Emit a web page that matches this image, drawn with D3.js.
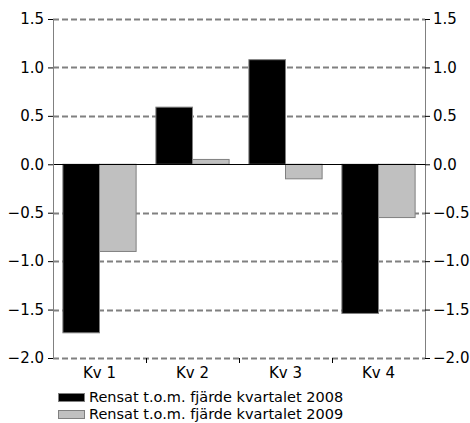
<!DOCTYPE html>
<html>
<head>
<meta charset="utf-8">
<script src="https://cdn.jsdelivr.net/npm/d3@7"></script>
<style>
  body { margin: 0; background: #fff; }
  text { font-family: "DejaVu Sans", Verdana, sans-serif; font-size: 15px; fill: #000; }
</style>
</head>
<body>
<svg id="chart" width="470" height="423"></svg>
<script>
const categories = ["Kv 1", "Kv 2", "Kv 3", "Kv 4"];
const seriesNames = ["Rensat t.o.m. fjärde kvartalet 2008", "Rensat t.o.m. fjärde kvartalet 2009"];
const values2008 = [-1.74, 0.59, 1.08, -1.54];
const values2009 = [-0.90, 0.05, -0.15, -0.55];
const yTicks = [1.5, 1.0, 0.5, 0.0, -0.5, -1.0, -1.5, -2.0];
const colors = ["#000000", "#c0c0c0"];

const margin = { top: 19, left: 53, right: 45, bottom: 65 };
const width = 470 - margin.left - margin.right,
    height = 423 - margin.top - margin.bottom;

const svg = d3.select("#chart");
const g = svg.append("g").attr("transform", `translate(${margin.left},${margin.top})`);

const y = d3.scaleLinear().domain([-2.0, 1.5]).range([height, 0]);
const x0 = d3.scaleBand().domain(categories).range([0, width]).paddingInner(0).paddingOuter(0);
const x1 = d3.scaleBand().domain([0, 1]).range([0, x0.bandwidth()]).paddingInner(0).paddingOuter(0.27);

// gridlines
g.selectAll(".grid")
    .data(yTicks.filter(d => d !== 0))
    .join("line")
    .attr("x1", 0).attr("x2", width)
    .attr("y1", d => Math.round(y(d)) + 0.5)
    .attr("y2", d => Math.round(y(d)) + 0.5)
    .attr("stroke", "#808080")
    .attr("stroke-width", 2)
    .attr("stroke-dasharray", "6,3");

// bars
const data = [];
categories.forEach((c, i) => {
    data.push({ cat: c, s: 0, v: values2008[i] });
    data.push({ cat: c, s: 1, v: values2009[i] });
});
g.selectAll("rect.bar")
    .data(data)
    .join("rect")
    .attr("class", "bar")
    .attr("x", d => x0(d.cat) + x1(d.s))
    .attr("width", x1.bandwidth())
    .attr("y", d => y(Math.max(0, d.v)))
    .attr("height", d => Math.abs(y(d.v) - y(0)))
    .attr("fill", d => colors[d.s])
    .attr("stroke", "#808080")
    .attr("stroke-width", 1);

// zero line
g.append("line")
    .attr("x1", 0).attr("x2", width)
    .attr("y1", Math.round(y(0)) + 0.5).attr("y2", Math.round(y(0)) + 0.5)
    .attr("stroke", "#000").attr("stroke-width", 1);

// axes
const fmt = d3.format(".1f");
const leftAxis = g.append("g")
    .call(d3.axisLeft(y).tickValues(yTicks).tickFormat(fmt).tickSize(5).tickPadding(4));
const rightAxis = g.append("g")
    .attr("transform", `translate(${width},0)`)
    .call(d3.axisRight(y).tickValues(yTicks).tickFormat(fmt).tickSize(5).tickPadding(3));
[leftAxis, rightAxis].forEach(a => {
    a.select(".domain").attr("stroke", "#808080");
    a.selectAll(".tick line").attr("stroke", "#000");
    a.selectAll("text").style("font-size", "15px").attr("fill", "#000");
});

const xAxis = g.append("g")
    .attr("transform", `translate(0,${height})`)
    .call(d3.axisBottom(x0).tickSize(0).tickPadding(9));
xAxis.select(".domain").remove();
xAxis.selectAll("text").style("font-size", "15px").attr("fill", "#000");
g.append("g").selectAll("line")
    .data(categories.slice(1))
    .join("line")
    .attr("x1", d => Math.round(x0(d)) + 0.5).attr("x2", d => Math.round(x0(d)) + 0.5)
    .attr("y1", height).attr("y2", height + 5)
    .attr("stroke", "#000");

// legend
const legend = svg.append("g").attr("transform", "translate(58,390)");
seriesNames.forEach((name, i) => {
    const row = legend.append("g").attr("transform", `translate(0,${i * 17})`);
    row.append("rect").attr("x", 0.5).attr("y", 3.5).attr("width", 26).attr("height", 8)
        .attr("fill", colors[i]).attr("stroke", "#808080");
    row.append("text").attr("x", 31).attr("y", 12).style("font-size", "14.5px").text(name);
});
</script>
</body>
</html>
